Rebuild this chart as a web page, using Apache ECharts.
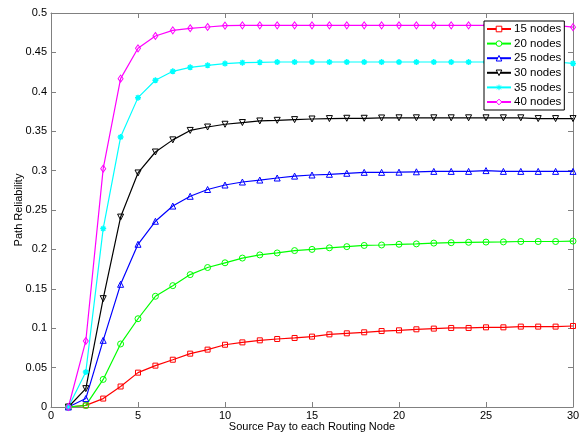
<!DOCTYPE html>
<html>
<head>
<meta charset="utf-8">
<script src="https://cdn.jsdelivr.net/npm/echarts@6/dist/echarts.min.js"></script>
<style>html,body{margin:0;padding:0;background:#fff;}#c{width:587px;height:436px;}</style>
</head>
<body>
<div id="c"></div>
<script>
const xValues = [1,2,3,4,5,6,7,8,9,10,11,12,13,14,15,16,17,18,19,20,21,22,23,24,25,26,27,28,29,30];
const seriesNames = ['15 nodes','20 nodes','25 nodes','30 nodes','35 nodes','40 nodes'];
const nodes15 = [0,0.002,0.0107,0.026,0.0436,0.0525,0.060,0.0677,0.0728,0.079,0.082,0.0846,0.0863,0.0876,0.0893,0.0922,0.0935,0.0948,0.0964,0.0973,0.0986,0.0995,0.1003,0.1003,0.1011,0.1011,0.102,0.102,0.102,0.1028];
const nodes20 = [0,0.002,0.035,0.080,0.112,0.1405,0.154,0.168,0.177,0.183,0.189,0.193,0.1955,0.1985,0.200,0.202,0.2035,0.205,0.2056,0.2065,0.207,0.208,0.2085,0.209,0.2093,0.2095,0.21,0.21,0.21,0.2105];
const nodes25 = [0,0.0107,0.0846,0.1557,0.2065,0.2357,0.255,0.2674,0.276,0.2817,0.2855,0.288,0.2906,0.293,0.2944,0.2953,0.2966,0.2978,0.2978,0.298,0.2985,0.299,0.299,0.299,0.300,0.299,0.299,0.299,0.299,0.299];
const nodes30 = [0,0.0233,0.1375,0.241,0.297,0.3236,0.339,0.351,0.3553,0.3588,0.361,0.363,0.3638,0.3647,0.3655,0.366,0.3664,0.3664,0.3668,0.367,0.367,0.367,0.367,0.367,0.367,0.367,0.367,0.366,0.366,0.366];
const nodes35 = [0,0.0444,0.2264,0.3426,0.3926,0.4146,0.426,0.431,0.4336,0.4358,0.437,0.4374,0.4378,0.4378,0.4378,0.4378,0.4378,0.4378,0.4378,0.4378,0.4378,0.4378,0.4378,0.4378,0.4378,0.4378,0.4378,0.4378,0.4378,0.436];
const nodes40 = [0,0.0838,0.3025,0.4167,0.4552,0.4708,0.478,0.4806,0.4822,0.484,0.4843,0.4843,0.4843,0.4843,0.4843,0.4843,0.4843,0.4843,0.4843,0.4843,0.4843,0.4843,0.4843,0.4843,0.4843,0.4843,0.4843,0.4843,0.4843,0.482];
const xTicks = [0,5,10,15,20,25,30];
const yTicks = [0,0.05,0.1,0.15,0.2,0.25,0.3,0.35,0.4,0.45,0.5];

const FONT = 'Liberation Sans, Arial, sans-serif';
const colors = ['#ff0000','#00ff00','#0000ff','#000000','#00ffff','#ff00ff'];
const asterisk = 'path://M0,-10 L0,10 M-10,0 L10,0 M-7,-7 L7,7 M-7,7 L7,-7';
const symbols = ['rect','circle','triangle','triangle',asterisk,'diamond'];
const rotates = [0,0,0,180,0,0];
const sizes = [5,6,6,6,6,[5,7]];
const allData = [nodes15,nodes20,nodes25,nodes30,nodes35,nodes40];

const axisGray = '#808080';
const chart = echarts.init(document.getElementById('c'), null, {renderer:'canvas'});
const series = allData.map((d,i)=>({
  name: seriesNames[i],
  type: 'line',
  data: xValues.map((x,k)=>[x,d[k]]),
  symbol: symbols[i],
  symbolRotate: rotates[i],
  symbolSize: sizes[i],
  showAllSymbol: true,
  animation: false,
  lineStyle: {color: colors[i], width: 1.2},
  itemStyle: {color: i===4 ? colors[i] : 'rgba(255,255,255,0)', borderColor: colors[i], borderWidth: i===4 ? 1.5 : 1},
  emphasis: {disabled: true}
}));

chart.setOption({
  animation: false,
  backgroundColor: '#fff',
  textStyle: {fontFamily: FONT},
  grid: {left: 51, right: 14, top: 13, bottom: 29, containLabel: false, outerBoundsMode: 'none'},
  legend: {
    orient: 'vertical',
    left: 484, top: 21,
    padding: [1, 3, 1, 2],
    backgroundColor: '#fff',
    borderColor: '#000',
    borderWidth: 1,
    borderRadius: 0,
    itemWidth: 24,
    itemHeight: 7,
    itemGap: 0.6,
    textStyle: {fontFamily: FONT, fontSize: 11.5, lineHeight: 14, color: '#000', padding: [0,0,0,-2]},
    data: seriesNames.map((n,i)=>({name: n, itemStyle: {color: i===4 ? colors[i] : '#ffffff', borderColor: colors[i], borderWidth: 1}}))
  },
  xAxis: [{
    type: 'value', min: 0, max: 30, interval: 5,
    position: 'bottom',
    name: 'Source Pay to each Routing Node',
    nameLocation: 'middle', nameGap: 14, nameMoveOverlap: false,
    nameTextStyle: {fontFamily: FONT, fontSize: 11, color: '#000'},
    axisLine: {show: true, onZero: false, lineStyle: {color: axisGray, width: 1}},
    axisTick: {show: true, inside: true, length: 5, lineStyle: {color: axisGray}},
    axisLabel: {fontFamily: FONT, fontSize: 11, color: '#000', margin: 3,
      formatter: v => xTicks.includes(v) ? String(v) : ''},
    splitLine: {show: false}
  },{
    type: 'value', min: 0, max: 30, interval: 5,
    position: 'top',
    axisLine: {show: true, onZero: false, lineStyle: {color: axisGray, width: 1}},
    axisTick: {show: true, inside: true, length: 5, lineStyle: {color: axisGray}},
    axisLabel: {show: false},
    splitLine: {show: false}
  }],
  yAxis: [{
    type: 'value', min: 0, max: 0.5, interval: 0.05,
    position: 'left',
    name: 'Path Reliability',
    nameLocation: 'middle', nameGap: 27, nameRotate: 90, nameMoveOverlap: false,
    nameTextStyle: {fontFamily: FONT, fontSize: 11, color: '#000'},
    axisLine: {show: true, onZero: false, lineStyle: {color: axisGray, width: 1}},
    axisTick: {show: true, inside: true, length: 5, lineStyle: {color: axisGray}},
    axisLabel: {fontFamily: FONT, fontSize: 11, color: '#000', margin: 4,
      formatter: v => { const t = yTicks.find(y=>Math.abs(y-v)<1e-9); return t===undefined ? '' : String(+t.toFixed(2)); }},
    splitLine: {show: false}
  },{
    type: 'value', min: 0, max: 0.5, interval: 0.05,
    position: 'right',
    axisLine: {show: true, onZero: false, lineStyle: {color: axisGray, width: 1}},
    axisTick: {show: true, inside: true, length: 5, lineStyle: {color: axisGray}},
    axisLabel: {show: false},
    splitLine: {show: false}
  }],
  series: series
});
</script>
</body>
</html>
